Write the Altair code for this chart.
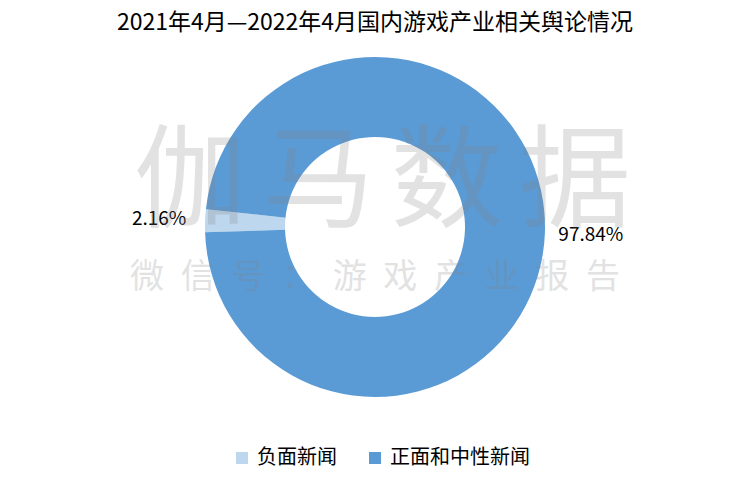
import math
import altair as alt
import pandas as pd

FONT = "Noto Sans CJK SC"

categories = ["负面新闻", "正面和中性新闻"]
values = [2.16, 97.84]
labels = ["2.16%", "97.84%"]
colors = ["#BDD7EE", "#5B9BD5"]
title_text = "2021年4月—2022年4月国内游戏产业相关舆论情况"
wm_line1 = list("伽马数据")
wm_line2 = list("微信号：游戏产业报告")

W, H = 734, 467
CX, CY = 367, 219
start = math.radians(268.2)

df = pd.DataFrame({"category": categories, "value": values,
                   "label": labels, "order": list(range(len(categories)))})

base = alt.Chart(df).encode(
    theta=alt.Theta("value:Q", stack=True,
                    scale=alt.Scale(range=[start, start + 2 * math.pi])),
    order=alt.Order("order:Q"),
)

arcs = base.mark_arc(radius=170, radius2=90).encode(
    x=alt.value(CX), y=alt.value(CY),
    color=alt.Color(
        "category:N", sort=categories,
        scale=alt.Scale(domain=categories, range=colors),
        legend=alt.Legend(title=None, orient="none", direction="horizontal",
                          legendX=224, legendY=440, symbolType="square",
                          symbolSize=144, symbolStrokeWidth=0,
                          labelFontSize=20, labelFont=FONT, labelColor="#000",
                          columnPadding=28, labelOffset=5, padding=0),
    ),
)

pct = base.mark_text(radius=216, fontSize=19, font=FONT, color="#000").encode(
    x=alt.value(CX), y=alt.value(CY), text="label:N")

wm1_df = pd.DataFrame({"ch": wm_line1, "i": list(range(len(wm_line1)))})
wm1 = alt.Chart(wm1_df).mark_text(fontSize=112, font=FONT, color="#808080",
                                  opacity=0.22).encode(
    x=alt.X("i:Q", scale=alt.Scale(domain=[0, len(wm_line1) - 1], range=[182, 567]), axis=None),
    y=alt.value(177), text="ch:N")

wm2_df = pd.DataFrame({"ch2": wm_line2, "j": list(range(len(wm_line2)))})
wm2 = alt.Chart(wm2_df).mark_text(fontSize=34, font=FONT, color="#808080",
                                  opacity=0.22).encode(
    x=alt.X("j:Q", scale=alt.Scale(domain=[0, len(wm_line2) - 1], range=[139, 595]), axis=None),
    y=alt.value(270), text="ch2:N")

title_df = pd.DataFrame({"t": [title_text]})
title = alt.Chart(title_df).mark_text(fontSize=23, font=FONT, color="#000").encode(
    x=alt.value(CX), y=alt.value(15), text="t:N")

chart = alt.layer(arcs, pct, title, wm1, wm2).resolve_scale(
    x="independent", y="independent"
).properties(
    width=W, height=H, autosize=alt.AutoSizeParams(type="none"), padding=0
).configure_view(stroke=None)

chart.save("out.html", embed_options={"renderer": "svg", "actions": False})
